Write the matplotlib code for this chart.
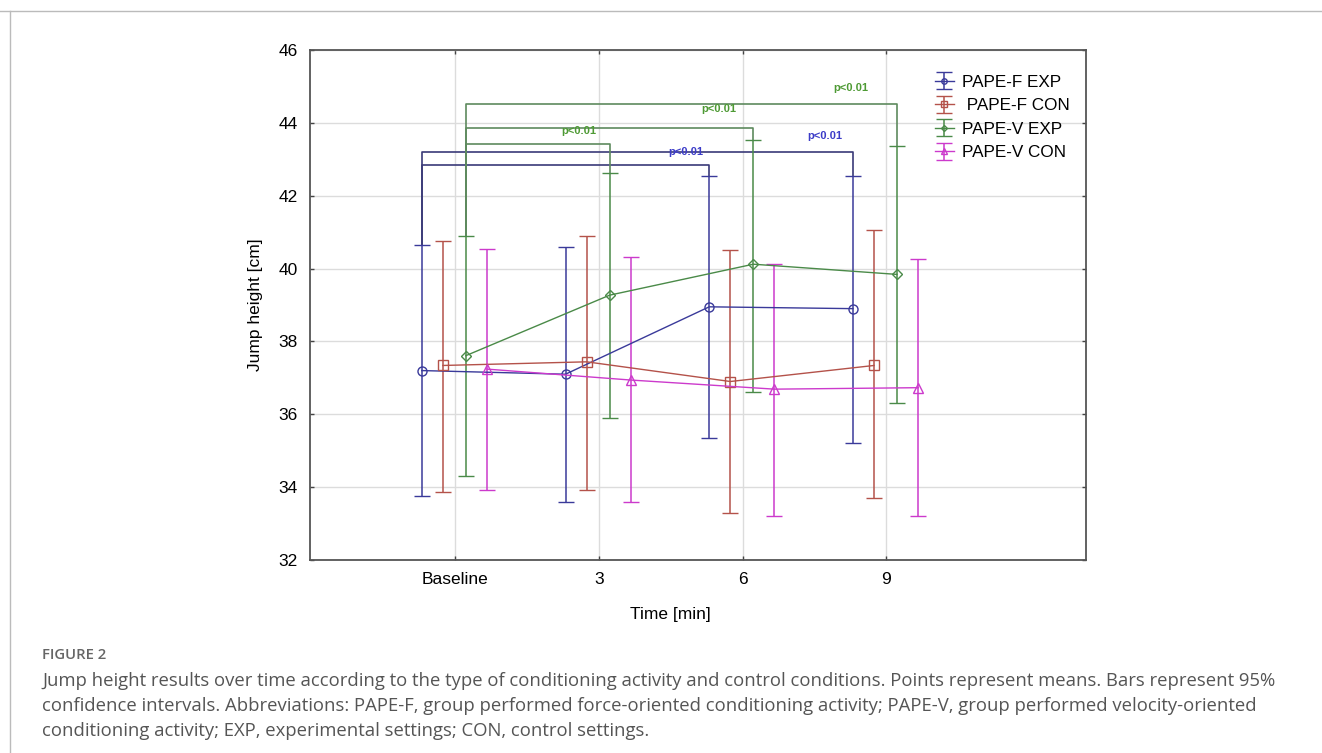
import matplotlib
matplotlib.use("Agg")
import matplotlib.pyplot as plt
from matplotlib.lines import Line2D

# time points
time_labels = ["Baseline", "3", "6", "9"]

# means and 95% CI limits
f_exp_mean = [37.20, 37.10, 38.95, 38.90]
f_exp_lo = [33.76, 33.60, 35.34, 35.21]
f_exp_hi = [40.65, 40.60, 42.55, 42.55]

f_con_mean = [37.34, 37.44, 36.90, 37.34]
f_con_lo = [33.88, 33.93, 33.30, 33.69]
f_con_hi = [40.76, 40.90, 40.50, 41.05]

v_exp_mean = [37.61, 39.27, 40.12, 39.84]
v_exp_lo = [34.30, 35.91, 36.62, 36.30]
v_exp_hi = [40.89, 42.61, 43.53, 43.36]

v_con_mean = [37.24, 36.94, 36.69, 36.73]
v_con_lo = [33.93, 33.58, 33.22, 33.20]
v_con_hi = [40.53, 40.31, 40.13, 40.26]

group_names = ["PAPE-F EXP", " PAPE-F CON", "PAPE-V EXP", "PAPE-V CON"]

# significance brackets: (group index, time index compared with baseline, bracket height, label)
bracket_group = [0, 0, 2, 2, 2]
bracket_time = [2, 3, 1, 2, 3]
bracket_height = [42.84, 43.20, 43.42, 43.87, 44.52]
bracket_text = ["p<0.01"] * 5

# styling
colors = ["#3a3a9a", "#b4524a", "#4a8a48", "#cc3acc"]
text_colors = ["#3c3cc8", None, "#4e9a34", None]
bracket_colors = ["#3a3a78", None, "#5e8a5e", None]
markers = ["o", "s", "D", "^"]
marker_sizes = [6.5, 6.5, 5, 6.5]
offsets = [-0.232, -0.085, 0.075, 0.222]
label_px = [(-23, 8), (-28, 11), (-31, 8), (-35, 14), (-46, 11)]

plt.rcParams["font.family"] = ["Liberation Sans", "DejaVu Sans"]

fig = plt.figure(figsize=(13.22, 7.53), dpi=100)
ax = fig.add_axes([310 / 1322, 1 - 560 / 753, 776 / 1322, 510 / 753])

means = [f_exp_mean, f_con_mean, v_exp_mean, v_con_mean]
los = [f_exp_lo, f_con_lo, v_exp_lo, v_con_lo]
his = [f_exp_hi, f_con_hi, v_exp_hi, v_con_hi]

handles = []
for g in range(4):
    xs = [i + offsets[g] for i in range(len(time_labels))]
    err = [[m - lo for m, lo in zip(means[g], los[g])],
           [hi - m for m, hi in zip(means[g], his[g])]]
    h = ax.errorbar(xs, means[g], yerr=err, color=colors[g], ecolor=colors[g],
                    lw=1.0, elinewidth=1.1, capsize=5.5, capthick=1.1,
                    marker=markers[g], ms=marker_sizes[g], mfc="none",
                    mec=colors[g], mew=1.0, zorder=3)
    handles.append(h)

# brackets
for k in range(len(bracket_height)):
    g = bracket_group[k]
    x0 = offsets[g]
    x1 = bracket_time[k] + offsets[g]
    y = bracket_height[k]
    ax.plot([x0, x0, x1, x1], [his[g][0], y, y, his[g][bracket_time[k]]],
            color=bracket_colors[g], lw=1.2, zorder=2)
    ax.annotate(bracket_text[k], xy=(x1, y), xytext=label_px[k],
                textcoords="offset pixels", ha="center", va="bottom",
                fontsize=8, fontweight="bold", color=text_colors[g])

ax.set_xlim(-1.01, 4.39)
ax.set_ylim(32, 46)
ax.set_xticks(range(len(time_labels)))
ax.set_xticklabels(time_labels)
ax.set_yticks(range(32, 47, 2))
ax.tick_params(direction="in", length=3, width=1, colors="#444444",
               labelcolor="black", labelsize=12.5, pad=9,
               top=True, right=True)
ax.grid(True, color="#dcdcdc", lw=1)
ax.set_axisbelow(True)
for s in ax.spines.values():
    s.set_color("#555555")
    s.set_linewidth(1.3)

ax.set_xlabel("Time [min]", fontsize=12.5)
ax.set_ylabel("Jump height [cm]", fontsize=12.5)
ax.xaxis.set_label_coords((670 - 310) / 776, -47 / 510)
ax.yaxis.set_label_coords(-47 / 776, 0.5)

ax.legend(handles, group_names, loc="upper left",
          bbox_to_anchor=((928 - 310) / 776, (560 - 68) / 510),
          frameon=False, fontsize=12.3, handlelength=1.1, handletextpad=0.5,
          labelspacing=0.5, borderaxespad=0, markerscale=0.6)

# page frame lines
fig.add_artist(Line2D([0, 1], [1 - 10.5 / 753] * 2, transform=fig.transFigure,
                      color="#bbbbbb", lw=1))
fig.add_artist(Line2D([10 / 1322] * 2, [0, 1 - 10.5 / 753], transform=fig.transFigure,
                      color="#bbbbbb", lw=1))

cap_font = ["Open Sans", "DejaVu Sans"]
fig.text(42 / 1322, 1 - 655 / 753, "FIGURE 2", family=cap_font, fontsize=10.7,
         fontweight="semibold", color="#666666", va="center")
caption = [
    "Jump height results over time according to the type of conditioning activity and control conditions. Points represent means. Bars represent 95%",
    "confidence intervals. Abbreviations: PAPE-F, group performed force-oriented conditioning activity; PAPE-V, group performed velocity-oriented",
    "conditioning activity; EXP, experimental settings; CON, control settings.",
]
for i, line in enumerate(caption):
    fig.text(42 / 1322, 1 - (681 + 25 * i) / 753, line, family=cap_font,
             fontsize=13.35, color="#555555", va="center")

fig.savefig("out.png", dpi=100)
